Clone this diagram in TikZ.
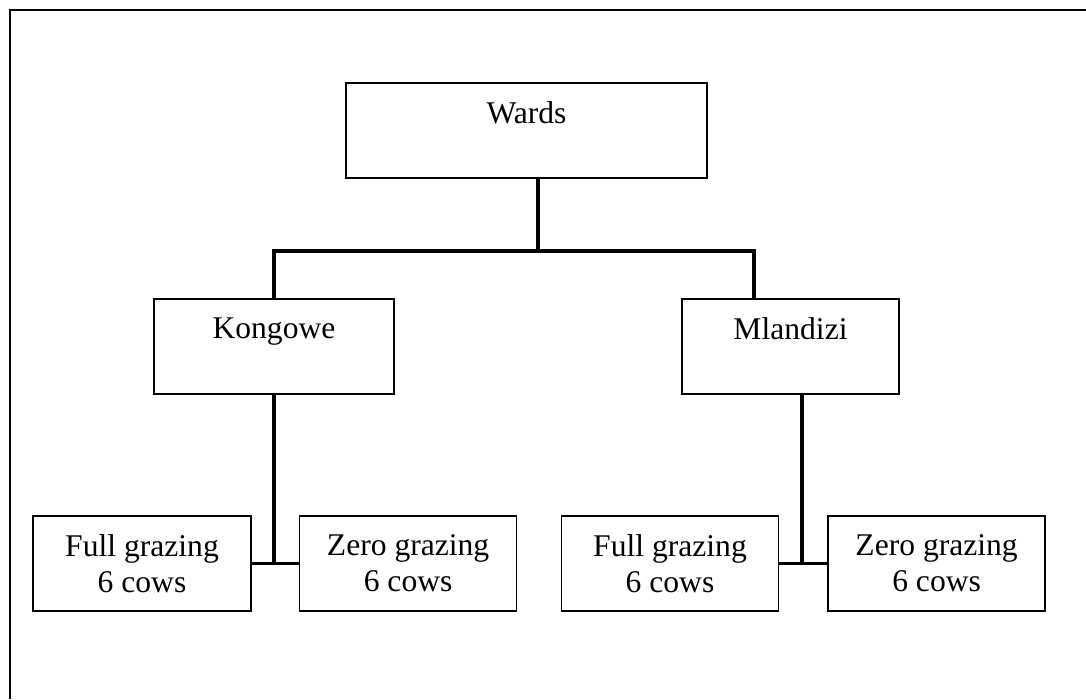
\documentclass[tikz,border=0pt]{standalone}
\usepackage{fontspec}
\setmainfont{Liberation Serif}
\usepackage{tikz}
\usetikzlibrary{positioning,calc}
\tikzset{
  box/.style={draw=black, line width=1.6pt, fill=white, align=center, inner sep=0pt, minimum height=95pt, font=\fontsize{31.6}{36}\selectfont},
  wardbox/.style={box, minimum width=240pt},
  leaf/.style={box, minimum width=217pt},
  link/.style={draw=black, line width=3.3pt},
  frame/.style={draw=black, line width=2.6pt}
}
\begin{document}
\begin{tikzpicture}[x=1pt, y=-1pt]
\useasboundingbox (0,0) rectangle (1086,699);
\draw[frame] (10,699) -- (10,10) -- (1086,10);
\node[box, minimum width=361pt] (wards) at (526.5,130.5) {Wards\\\mbox{}};
\node[wardbox] (kongowe) at (274,346.5) {Kongowe\\\mbox{}};
\node[wardbox, minimum width=217pt] (mlandizi) at (790.5,346.5) {Mlandizi\\\mbox{}};
\node[leaf, minimum width=218pt] (full1) at (142,563.5) {Full grazing\\6 cows};
\node[leaf, right=47pt of full1] (zero1) {Zero grazing\\6 cows};
\node[leaf] (full2) at (670,563.5) {Full grazing\\6 cows};
\node[leaf, right=48pt of full2] (zero2) {Zero grazing\\6 cows};
\coordinate (fork) at (538,251);
\coordinate (mdrop) at (754,299);
\coordinate (mjoin) at (802,563.5);
\draw[link] (wards.south -| fork) -- (fork);
\draw[link] (kongowe.north) |- (fork) -| (mdrop);
\draw[link] (kongowe.south) -- (kongowe.south |- full1.east);
\draw[link] (full1.east) -- (zero1.west);
\draw[link] (mlandizi.south -| mjoin) -- (mjoin);
\draw[link] (full2.east) -- (zero2.west);
\end{tikzpicture}
\end{document}
